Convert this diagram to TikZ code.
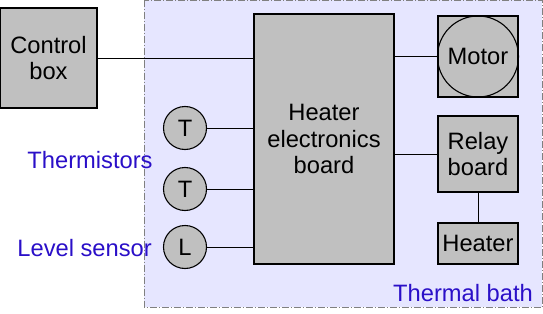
\documentclass[tikz,border=0pt]{standalone}
\usepackage{fontspec}
\setmainfont{Liberation Sans}
\definecolor{boxgray}{HTML}{C0C0C0}
\definecolor{bathfill}{HTML}{E6E6FF}
\definecolor{labelblue}{HTML}{2A0FC8}
\tikzset{
  part/.style={draw, fill=boxgray, line width=1.1pt, align=center, inner sep=0pt},
  sensor/.style={circle, draw, fill=boxgray, line width=1.1pt, minimum size=43pt, inner sep=0pt},
  wire/.style={line width=0.9pt},
  bluelabel/.style={text=labelblue, inner sep=0pt}
}
\begin{document}
\begin{tikzpicture}[x=1pt, y=-1pt, font=\fontsize{23.7}{26.5}\selectfont]
  \useasboundingbox (0,0) rectangle (543,313);
  \draw[gray, fill=bathfill, line width=0.9pt, dash pattern=on 7pt off 2pt on 1pt off 2pt]
    (144,0.5) rectangle (542,307);
  \node[part, minimum width=97pt, minimum height=100pt] (ctrl) at (48.5,58) {Control\\box};
  \node[part, minimum width=140pt, minimum height=250pt] (board) at (324,139) {Heater\\electronics\\board};
  \node[part, minimum width=80pt, minimum height=81pt] (motorbox) at (478,56.5) {};
  \node[circle, draw, line width=1.1pt, minimum size=81pt, inner sep=0pt] (motor) at (478,56.5) {Motor};
  \node[part, minimum width=80pt, minimum height=76pt] (relay) at (478,154) {Relay\\board};
  \node[part, minimum width=80pt, minimum height=41pt] (heater) at (478,243.5) {Heater};
  \node[sensor] (t1) at (185,128) {T};
  \node[sensor] (t2) at (185,189) {T};
  \node[sensor] (lvl) at (185,247) {L};
  \node[bluelabel] (thermlabel) at (90,160) {Thermistors};
  \node[bluelabel, anchor=east] (lvllabel) at (152,248) {Level sensor};
  \node[bluelabel, anchor=east] (bathlabel) at (533,293) {Thermal bath};
  % connections
  \draw[wire] (ctrl.east) -- (ctrl.east -| board.west);
  \draw[wire] (t1) -- (t1 -| board.west);
  \draw[wire] (t2) -- (t2 -| board.west);
  \draw[wire] (lvl) -- (lvl -| board.west);
  \draw[wire] (motorbox.west -| board.east) -- (motorbox.west);
  \draw[wire] (relay.west -| board.east) -- (relay.west);
  \draw[wire] (relay.south) -- (heater.north);
\end{tikzpicture}
\end{document}
